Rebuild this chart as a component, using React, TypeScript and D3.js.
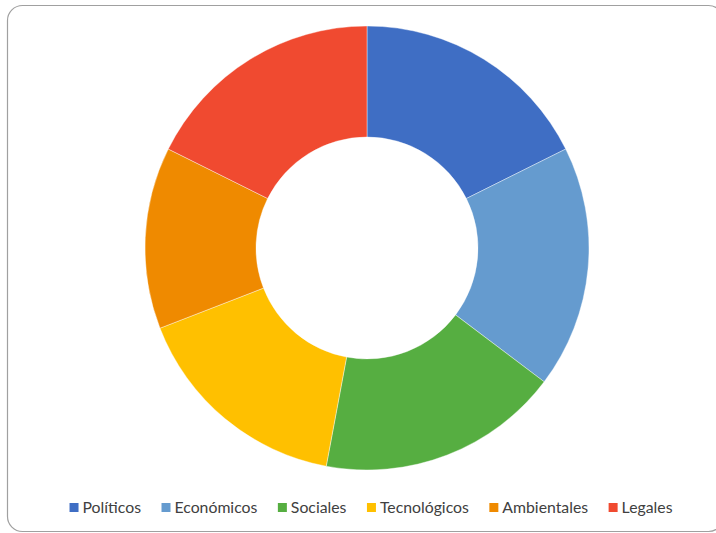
import React, { useEffect, useRef } from "react";
import * as d3 from "d3";

const categories = ["Políticos", "Económicos", "Sociales", "Tecnológicos", "Ambientales", "Legales"];
const values = [6, 6, 6, 5.5, 4.5, 6];
const colors = ["#3f6ec4", "#659bcf", "#56ae41", "#ffc000", "#ef8a00", "#f04a30"];

const W = 716;
const H = 533;

export default function App() {
  const ref = useRef<SVGSVGElement | null>(null);

  useEffect(() => {
    const svg = d3.select(ref.current);
    svg.selectAll("*").remove();

    svg
      .append("rect")
      .attr("x", 7.5)
      .attr("y", 5.5)
      .attr("width", 716)
      .attr("height", 526)
      .attr("rx", 15)
      .attr("fill", "#fff")
      .attr("stroke", "#a0a0a0")
      .attr("stroke-width", 1.2);

    const cx = 367;
    const cy = 248;
    const outerR = 222;
    const innerR = 111;

    const data = categories.map((c, i) => ({ c, v: values[i], col: colors[i] }));
    const pie = d3.pie<any>().value((d) => d.v).sort(null);
    const arc = d3.arc<any>().innerRadius(innerR).outerRadius(outerR);

    const g = svg.append("g").attr("transform", `translate(${cx},${cy})`);
    g.selectAll("path")
      .data(pie(data))
      .join("path")
      .attr("d", arc as any)
      .attr("fill", (d: any) => d.data.col)
      .attr("stroke", "#ffffff")
      .attr("stroke-width", 0.4);

    // Legend
    const legend = svg.append("g");
    const fontSize = 15.8;
    const items = legend
      .selectAll("g")
      .data(data)
      .join("g");
    items
      .append("rect")
      .attr("width", 9)
      .attr("height", 9)
      .attr("y", -10)
      .attr("fill", (d) => d.col);
    items
      .append("text")
      .attr("x", 13)
      .attr("y", 0)
      .attr("font-family", "Lato, 'Open Sans', sans-serif")
      .attr("font-size", fontSize)
      .attr("fill", "#404040")
      .text((d) => d.c);

    const widths: number[] = [];
    items.each(function () {
      const t = d3.select(this).select("text").node() as SVGTextElement;
      widths.push(13 + t.getComputedTextLength());
    });
    const gap = 20.5;
    const total = d3.sum(widths) + gap * (widths.length - 1);
    let x = 371 - total / 2;
    items.each(function (_, i) {
      d3.select(this).attr("transform", `translate(${x},513)`);
      x += widths[i] + gap;
    });
  }, []);

  return (
    <svg
      ref={ref}
      width={W}
      height={H}
      style={{ position: "absolute", left: 0, top: 0, display: "block" }}
    />
  );
}
